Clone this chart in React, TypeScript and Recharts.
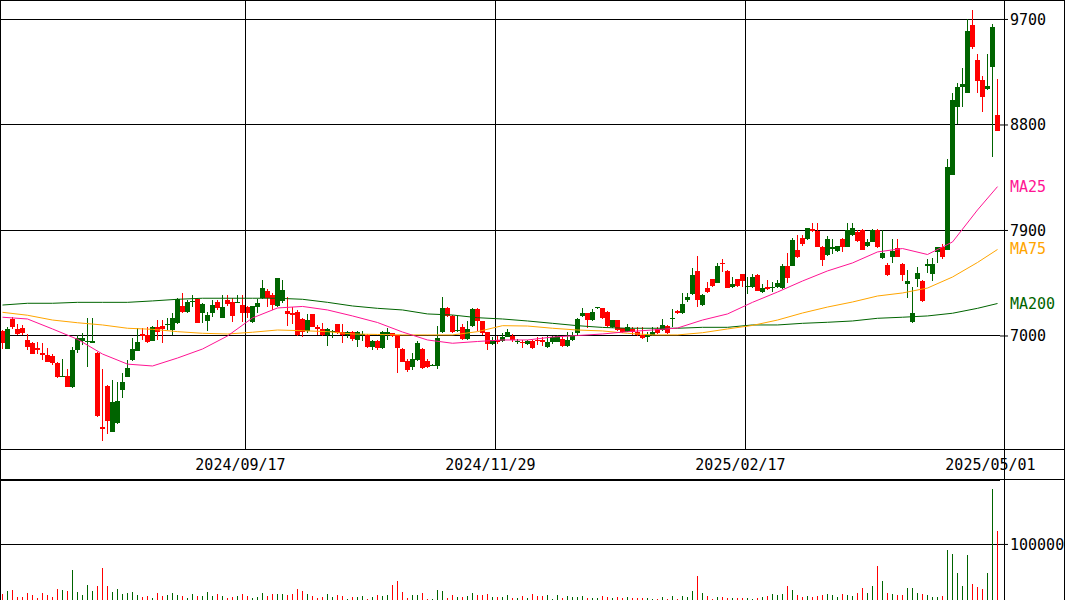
import React from 'react';
import { ComposedChart, Bar, Line, XAxis, YAxis, CartesianGrid, ReferenceLine } from 'recharts';

const opens = [
  7043, 6889, 7145, 7060, 7066, 6966, 6943, 6898, 6855, 6838, 6829, 6770, 6655, 6659, 6568, 6881, 6957, 6950, 6943, 6858,
  6226, 6573, 6184, 6255, 6540, 6653, 6795, 6875, 7017, 7008, 6960, 7074, 7085, 7100, 7051, 7113, 7256, 7208, 7290, 7313,
  7193, 7125, 7199, 7290, 7151, 7307, 7293, 7290, 7264, 7250, 7120, 7250, 7322, 7384, 7350, 7256, 7301, 7216, 7200, 7208,
  7142, 7043, 7188, 7080, 7060, 7008, 7035, 7102, 7037, 7008, 7037, 6966, 7010, 7008, 6903, 6960, 6895, 7020, 7023, 7008,
  6889, 6787, 6738, 6795, 6889, 6787, 6745, 6747, 7031, 7242, 7173, 7040, 7080, 6975, 7088, 7230, 7128, 7031, 6929, 6966,
  6960, 6994, 7003, 6950, 6952, 6935, 6957, 6966, 6962, 6909, 6946, 6952, 6975, 6917, 6966, 7023, 7173, 7193, 7136, 7240,
  7236, 7208, 7080, 7136, 7066, 7037, 7057, 7037, 7008, 6994, 7008, 7057, 7051, 7085, 7143, 7216, 7193, 7310, 7360, 7555,
  7264, 7407, 7483, 7455, 7620, 7555, 7420, 7483, 7526, 7420, 7415, 7520, 7375, 7420, 7410, 7415, 7410, 7600, 7600, 7735,
  7835, 7825, 7912, 7892, 7760, 7690, 7745, 7725, 7830, 7760, 7860, 7890, 7905, 7765, 7805, 7904, 7662, 7606, 7671, 7748,
  7614, 7441, 7122, 7484, 7472, 7600, 7529, 7719, 7757, 7734, 8373, 8957, 9122, 9076, 9653, 9354, 9184, 9105, 9298, 8885,
];
const highs = [
  7050, 7079, 7160, 7102, 7094, 7017, 6952, 6952, 6937, 6895, 6846, 6775, 6804, 6716, 6909, 7008, 7028, 7156, 7156, 6860,
  6716, 6580, 6625, 6611, 6682, 6795, 6980, 7068, 7066, 7074, 7085, 7136, 7136, 7151, 7193, 7320, 7364, 7307, 7350, 7320,
  7279, 7202, 7307, 7307, 7350, 7350, 7322, 7350, 7350, 7260, 7260, 7313, 7478, 7398, 7364, 7495, 7478, 7330, 7250, 7222,
  7150, 7188, 7190, 7094, 7108, 7066, 7051, 7105, 7102, 7045, 7045, 7040, 7045, 7015, 6965, 6963, 7045, 7071, 7025, 7010,
  6895, 6800, 6852, 6960, 6895, 6800, 6760, 7088, 7335, 7250, 7180, 7170, 7100, 7125, 7242, 7235, 7130, 7035, 6990, 7000,
  7023, 7060, 7020, 6975, 6966, 6966, 6966, 6990, 6990, 7000, 7003, 7010, 6990, 7031, 7031, 7150, 7235, 7200, 7230, 7250,
  7240, 7215, 7140, 7140, 7070, 7105, 7080, 7074, 7074, 7037, 7074, 7074, 7142, 7090, 7228, 7220, 7364, 7370, 7580, 7683,
  7360, 7464, 7490, 7626, 7654, 7560, 7500, 7490, 7530, 7500, 7526, 7530, 7440, 7480, 7460, 7480, 7610, 7705, 7835, 7860,
  7860, 7925, 7960, 7960, 7765, 7850, 7830, 7770, 7835, 7960, 7960, 7900, 7910, 7830, 7915, 7915, 7904, 7625, 7825, 7825,
  7620, 7563, 7415, 7591, 7480, 7654, 7663, 7760, 7785, 8507, 9076, 9156, 9285, 9700, 9781, 9406, 9218, 9406, 9662, 9192,
];
const lows = [
  6889, 6885, 7057, 7010, 7008, 6881, 6846, 6846, 6795, 6781, 6753, 6645, 6650, 6568, 6554, 6852, 6923, 6738, 6940, 6312,
  6107, 6164, 6180, 6250, 6468, 6650, 6790, 6870, 6966, 6943, 6955, 6966, 6943, 7051, 7008, 7105, 7193, 7200, 7250, 7108,
  7113, 7045, 7165, 7222, 7151, 7260, 7122, 7280, 7122, 7150, 7113, 7199, 7315, 7245, 7222, 7250, 7279, 7085, 7100, 7000,
  6994, 7023, 7074, 7008, 7000, 6915, 6980, 7020, 6943, 6980, 6960, 6909, 6960, 6900, 6880, 6881, 6890, 6966, 6990, 6682,
  6775, 6690, 6710, 6790, 6720, 6730, 6740, 6719, 7025, 7165, 7025, 7030, 6970, 6970, 7080, 7043, 7008, 6881, 6920, 6929,
  6950, 6990, 6950, 6935, 6895, 6920, 6890, 6920, 6915, 6900, 6935, 6945, 6910, 6909, 6960, 7010, 7165, 7066, 7130, 7230,
  7145, 7080, 7070, 7040, 7025, 7030, 7010, 7000, 6975, 6952, 7000, 7015, 7045, 7017, 7080, 7185, 7185, 7290, 7350, 7250,
  7260, 7370, 7420, 7450, 7550, 7410, 7410, 7420, 7420, 7360, 7410, 7380, 7370, 7395, 7375, 7410, 7400, 7450, 7595, 7665,
  7770, 7815, 7885, 7755, 7595, 7680, 7700, 7715, 7720, 7755, 7855, 7805, 7730, 7755, 7800, 7750, 7655, 7512, 7620, 7670,
  7472, 7327, 7115, 7420, 7293, 7540, 7472, 7620, 7654, 7730, 8370, 8805, 8957, 9070, 9446, 9076, 8912, 9100, 8530, 8745,
];
const closes = [
  6940, 7057, 7079, 7017, 7028, 6909, 6846, 6883, 6841, 6781, 6767, 6653, 6662, 6568, 6881, 6980, 6986, 6957, 6957, 6318,
  6210, 6277, 6440, 6449, 6608, 6724, 6886, 6952, 7000, 6952, 7080, 7037, 7057, 7103, 7151, 7313, 7208, 7290, 7295, 7113,
  7273, 7176, 7264, 7242, 7250, 7270, 7173, 7293, 7199, 7199, 7256, 7279, 7407, 7322, 7264, 7492, 7392, 7188, 7180, 7008,
  7037, 7136, 7080, 7060, 7008, 7057, 7040, 7023, 7008, 7037, 6972, 7037, 7020, 6903, 6960, 6895, 7037, 7030, 7003, 6895,
  6781, 6710, 6804, 6938, 6730, 6738, 6750, 6986, 7242, 7173, 7031, 7055, 6975, 7060, 7230, 7128, 7023, 6929, 6966, 6946,
  6995, 7037, 6966, 6960, 6937, 6957, 6895, 6955, 6945, 6952, 6994, 7003, 6917, 6966, 7008, 7145, 7193, 7136, 7208, 7245,
  7151, 7088, 7136, 7051, 7037, 7080, 7031, 7008, 6980, 7008, 7037, 7023, 7094, 7028, 7150, 7193, 7273, 7330, 7523, 7307,
  7350, 7378, 7426, 7597, 7610, 7413, 7440, 7426, 7470, 7430, 7503, 7386, 7412, 7400, 7415, 7450, 7600, 7492, 7820, 7670,
  7785, 7920, 7892, 7760, 7647, 7830, 7760, 7765, 7760, 7905, 7925, 7810, 7735, 7805, 7905, 7757, 7706, 7520, 7728, 7677,
  7520, 7469, 7199, 7535, 7299, 7610, 7614, 7757, 7671, 8439, 9013, 9122, 9150, 9605, 9468, 9178, 9042, 9133, 9639, 8751,
];
const volumes = [
  11500, 16400, 18200, 5500, 5500, 12700, 9100, 3600, 12700, 9100, 5500, 20000, 18200, 16400, 54500, 14500, 9100, 27300, 16400, 25500,
  58200, 25500, 14500, 20000, 10900, 12700, 14500, 9100, 5500, 7300, 3600, 12700, 7300, 9100, 12700, 9100, 7300, 3600, 10900, 7300,
  7300, 14500, 7300, 10900, 7300, 3600, 5500, 7300, 10900, 7300, 3600, 5500, 12700, 7300, 10900, 10900, 10900, 9100, 10900, 20000,
  16400, 10900, 7300, 3600, 5500, 10900, 5500, 9100, 7300, 1800, 5500, 5500, 7300, 1800, 5500, 9100, 7300, 9100, 27300, 34500,
  14500, 3600, 9100, 9100, 12700, 1800, 1800, 18200, 16400, 3600, 9100, 5500, 5500, 7300, 12700, 9100, 9100, 10900, 5500, 5500,
  6000, 9100, 3600, 3600, 7300, 3600, 10900, 7300, 7300, 9100, 2000, 9100, 3600, 7300, 5500, 5500, 7300, 3600, 3600, 3600,
  7300, 5500, 3600, 5500, 3600, 5500, 3600, 3600, 3600, 3600, 1800, 1000, 5500, 1800, 7300, 1800, 7300, 5500, 16400, 43600,
  12700, 7300, 1800, 5500, 5500, 3600, 3600, 3600, 3600, 3600, 1800, 3600, 5500, 7300, 10900, 9100, 10900, 25500, 18200, 9100,
  5500, 7300, 5500, 7300, 9100, 10900, 9100, 5500, 10900, 9100, 7300, 12700, 21800, 12700, 25500, 61800, 34500, 12700, 10900, 9100,
  9100, 21800, 21800, 12700, 10900, 9100, 5500, 5500, 7300, 90900, 83600, 49100, 25500, 81800, 29100, 23600, 20000, 49100, 200000, 123600,
];
const maIndex = [
  0, 5, 10, 15, 20, 25, 30, 35, 40, 45, 50, 55, 60, 65, 70, 75, 80, 85, 90, 95,
  100, 105, 110, 115, 120, 125, 130, 135, 140, 145, 150, 155, 160, 165, 170, 175, 180, 185, 190, 195, 199,
];
const ma25 = [
  7160, 7145, 7060, 6972, 6846, 6760, 6744, 6812, 6889, 7000, 7154, 7239, 7252, 7222, 7171, 7115, 7034, 6966, 6938, 6953,
  6966, 6966, 6991, 7004, 7017, 7037, 7051, 7068, 7136, 7188, 7287, 7375, 7469, 7555, 7623, 7717, 7746, 7695, 7802, 8075, 8274,
];
const ma75 = [
  7202, 7177, 7136, 7113, 7094, 7066, 7057, 7037, 7023, 7017, 7032, 7051, 7045, 7037, 7017, 7013, 7009, 7009, 7009, 7037,
  7088, 7085, 7066, 7051, 7043, 7023, 7009, 7009, 7028, 7060, 7090, 7136, 7196, 7247, 7290, 7341, 7367, 7409, 7503, 7627, 7738,
];
const ma200 = [
  7264, 7279, 7279, 7287, 7287, 7287, 7299, 7313, 7322, 7322, 7322, 7322, 7313, 7287, 7256, 7236, 7222, 7188, 7179, 7156,
  7145, 7128, 7108, 7088, 7073, 7066, 7066, 7066, 7074, 7074, 7094, 7094, 7108, 7117, 7128, 7151, 7160, 7171, 7194, 7236, 7277,
];
const dateTicks = [49, 99, 149, 199];
const dateLabels = ['2024/09/17', '2024/11/29', '2025/02/17', '2025/05/01'];
const gridDates = [49, 99, 149];
const priceTicks = [7000, 7900, 8800, 9700];
const volumeTicks = [100000];

const UP = '#006400';
const DOWN = '#ff0000';
const C25 = '#ff1493';
const C75 = '#ffa500';
const C200 = '#006400';
const FONT = '"DejaVu Sans Mono", monospace';
const LAST = opens.length - 1;

const data = opens.map((o, i) => {
  const k = maIndex.indexOf(i);
  return {
    i,
    o,
    h: highs[i],
    l: lows[i],
    c: closes[i],
    v: volumes[i],
    ma25: k >= 0 ? ma25[k] : null,
    ma75: k >= 0 ? ma75[k] : null,
    ma200: k >= 0 ? ma200[k] : null,
  };
});

const Candle = (props: any) => {
  const { x, y, width, height, payload } = props;
  const { o, h, l, c } = payload;
  const range = h - l;
  const k = range > 0 ? height / range : 0;
  const yO = y + (h - o) * k;
  const yC = y + (h - c) * k;
  const color = c >= o ? UP : DOWN;
  const top = Math.min(yO, yC);
  const bh = Math.max(1, Math.abs(yO - yC));
  return (
    <g>
      <rect x={x + 2} y={y} width={1} height={Math.max(1, height)} fill={color} shapeRendering="crispEdges" />
      <rect x={x} y={top} width={width} height={bh} fill={color} shapeRendering="crispEdges" />
    </g>
  );
};

const VolBar = (props: any) => {
  const { x, y, height, payload } = props;
  const color = payload.c >= payload.o ? UP : DOWN;
  return <rect x={x + 2} y={y} width={1} height={height} fill={color} shapeRendering="crispEdges" />;
};

const DateTick = (props: any) => {
  const { x, y, payload } = props;
  const k = dateTicks.indexOf(payload.value);
  if (k < 0) return null;
  return (
    <text x={x - 7} y={y + 21} textAnchor="middle" fontFamily={FONT} fontSize={15} fill="#000">
      {dateLabels[k]}
    </text>
  );
};

const maLabel = (name: string, color: string) => (p: any) => {
  if (p.index !== LAST) return null;
  return (
    <text x={p.x + 12.5} y={p.y} dominantBaseline="central" fontFamily={FONT} fontSize={15} fill={color}>
      {name}
    </text>
  );
};

const tickStyle = { fill: '#000', fontSize: 15, fontFamily: FONT };

const line = (style: React.CSSProperties) => (
  <div style={{ position: 'absolute', background: '#000', ...style }} />
);

export default function App() {
  return (
    <div style={{ position: 'absolute', left: 0, top: 0, width: 1065, height: 600, background: '#fff', overflow: 'hidden' }}>
      <div style={{ position: 'absolute', left: 0, top: 0 }}>
        <ComposedChart
          width={1065}
          height={479}
          data={data}
          margin={{ top: 0, right: 0, bottom: 0, left: 0 }}
          barCategoryGap={0}
          barGap={0}
        >
          <CartesianGrid vertical={false} stroke="#000" strokeDasharray="" shapeRendering="crispEdges" />
          <XAxis
            dataKey="i"
            type="category"
            ticks={dateTicks}
            interval={0}
            height={30}
            tickLine={false}
            axisLine={false}
            tickSize={0}
            tickMargin={0}
            tick={<DateTick />}
          />
          <YAxis
            orientation="right"
            type="number"
            width={65}
            domain={[6036, 9866]}
            allowDataOverflow
            ticks={priceTicks}
            interval={0}
            axisLine={false}
            tickLine={{ stroke: '#000' }}
            tickSize={8}
            tickMargin={2}
            tick={tickStyle}
          />
          {gridDates.map((d) => (
            <ReferenceLine key={d} x={d} position="start" stroke="#000" shapeRendering="crispEdges" />
          ))}
          <Bar dataKey={(d: any) => [d.l, d.h]} shape={<Candle />} isAnimationActive={false} />
          <Line
            dataKey="ma200"
            stroke={C200}
            strokeWidth={1}
            dot={false}
            connectNulls
            type="linear"
            isAnimationActive={false}
            label={maLabel('MA200', C200)}
          />
          <Line
            dataKey="ma75"
            stroke={C75}
            strokeWidth={1}
            dot={false}
            connectNulls
            type="linear"
            isAnimationActive={false}
            label={maLabel('MA75', C75)}
          />
          <Line
            dataKey="ma25"
            stroke={C25}
            strokeWidth={1}
            dot={false}
            connectNulls
            type="linear"
            isAnimationActive={false}
            label={maLabel('MA25', C25)}
          />
        </ComposedChart>
      </div>
      <div style={{ position: 'absolute', left: 0, top: 480 }}>
        <ComposedChart
          width={1065}
          height={120}
          data={data}
          margin={{ top: 0, right: 0, bottom: 0, left: 0 }}
          barCategoryGap={0}
          barGap={0}
        >
          <CartesianGrid vertical={false} stroke="#000" shapeRendering="crispEdges" />
          <XAxis dataKey="i" type="category" hide />
          <YAxis
            orientation="right"
            type="number"
            width={65}
            domain={[0, 216000]}
            allowDataOverflow
            ticks={volumeTicks}
            interval={0}
            axisLine={false}
            tickLine={{ stroke: '#000' }}
            tickSize={8}
            tickMargin={2}
            tick={tickStyle}
          />
          <Bar dataKey="v" shape={<VolBar />} isAnimationActive={false} />
        </ComposedChart>
      </div>
      {line({ left: 0, top: 0, width: 1065, height: 1 })}
      {line({ left: 0, top: 0, width: 1, height: 600 })}
      {line({ left: 1064, top: 0, width: 1, height: 600 })}
      {line({ left: 1004, top: 0, width: 1, height: 600 })}
      {line({ left: 0, top: 449, width: 1065, height: 1 })}
      {line({ left: 0, top: 479, width: 1065, height: 1 })}
    </div>
  );
}
